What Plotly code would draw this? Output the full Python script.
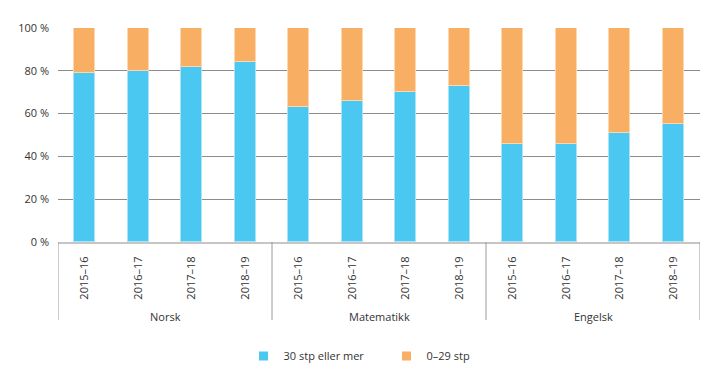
import plotly.graph_objects as go

subjects = ["Norsk", "Matematikk", "Engelsk"]
years = ["2015–16", "2016–17", "2017–18", "2018–19"]
series_names = ["30 stp eller mer", "0–29 stp"]
high = [79, 80, 82, 84, 63, 66, 70, 73, 46, 46, 51, 55]
low = [100 - v for v in high]

blue = "#4AC8F2"
orange = "#F9AF63"

n = len(subjects) * len(years)
xs = list(range(n))
ticktext = years * len(subjects)

fig = go.Figure()
fig.add_trace(go.Bar(x=xs, y=high, name=series_names[0], marker=dict(color=blue, line=dict(color="#A9E3F7", width=1)),
                     width=0.4, showlegend=False))
fig.add_trace(go.Bar(x=xs, y=low, name=series_names[1], marker=dict(color=orange, line=dict(color="#FCD7B0", width=1)),
                     width=0.4, showlegend=False))
for nm, c in zip(series_names, [blue, orange]):
    fig.add_trace(go.Scatter(x=[None], y=[None], mode="markers", name=nm,
                             marker=dict(symbol="square", size=9, color=c)))

font = dict(family="Open Sans, Noto Sans, sans-serif", size=11, color="#333333")
ngroup = len(years)
for i, s in enumerate(subjects):
    fig.add_annotation(x=i * ngroup + (ngroup - 1) / 2, y=0, xref="x", yref="paper", text=s,
                       showarrow=False, yshift=-74, yanchor="middle", font=font)
for k in range(len(subjects) + 1):
    fig.add_shape(type="line", xref="x", yref="paper", x0=k * ngroup - 0.5, x1=k * ngroup - 0.5,
                  y0=0, y1=-78 / 214, line=dict(color="#9a9a9a", width=1))

fig.update_layout(
    barmode="stack",
    width=711, height=375,
    margin=dict(l=50, r=19, t=20, b=141, autoexpand=False),
    paper_bgcolor="white", plot_bgcolor="white",
    font=font,
    xaxis=dict(range=[-0.5, n - 0.5], tickvals=xs, ticktext=ticktext, tickangle=-90,
               showline=True, linecolor="#c6c6c6", linewidth=2, showgrid=False, zeroline=False,
               ticks="", ticklabelstandoff=8, automargin=False),
    yaxis=dict(range=[0, 100], dtick=20, ticksuffix=" %", gridcolor="#8c8c8c", gridwidth=1,
               zeroline=False, showline=False, ticklabelstandoff=8, automargin=False),
    legend=dict(orientation="h", x=0.289, xanchor="left", y=-0.533, yanchor="middle",
                entrywidth=98, font=font, traceorder="normal"),
    bargap=0,
)
fig.write_html("out.html")
